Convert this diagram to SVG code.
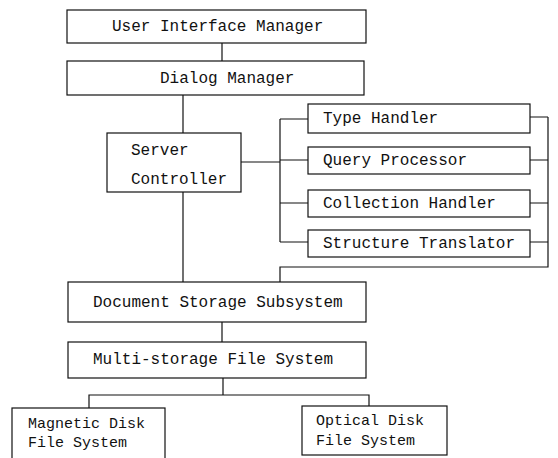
<svg xmlns="http://www.w3.org/2000/svg" width="558" height="458" viewBox="0 0 558 458">
<style>
.box{fill:#fff;stroke:#111;stroke-width:1.2}
.ln{fill:none;stroke:#111;stroke-width:1.2}
text{font-family:"Liberation Mono","DejaVu Sans Mono",monospace;font-size:16px;fill:#111}
.sm{font-size:15px}
</style>
<rect width="558" height="458" fill="#fff"/>
<g id="connectors">
<path class="ln" d="M222,43 V61"/>
<path class="ln" d="M183,95 V133"/>
<path class="ln" d="M241,162 H280"/>
<path class="ln" d="M280,119 V242"/>
<path class="ln" d="M280,119 H308 M280,160 H308 M280,203 H308 M280,242 H308"/>
<path class="ln" d="M530,117 H548 M530,160 H548 M530,203 H548 M530,242 H548"/>
<path class="ln" d="M548,117 V267 H280 V282"/>
<path class="ln" d="M183,192 V282"/>
<path class="ln" d="M222,322 V342"/>
<path class="ln" d="M223,378 V395"/>
<path class="ln" d="M89,408 V395 H369 V406"/>
</g>
<g id="ui-manager"><rect class="box" x="67" y="10" width="299" height="33"/><text x="112" y="31">User Interface Manager</text></g>
<g id="dialog-manager"><rect class="box" x="67" y="61" width="297" height="34"/><text x="160" y="83">Dialog Manager</text></g>
<g id="server-controller"><rect class="box" x="107" y="133" width="134" height="59"/><text x="131" y="155">Server</text><text x="131" y="184">Controller</text></g>
<g id="type-handler"><rect class="box" x="308" y="104" width="222" height="29"/><text x="323" y="123">Type Handler</text></g>
<g id="query-processor"><rect class="box" x="308" y="147" width="222" height="27"/><text x="323" y="165">Query Processor</text></g>
<g id="collection-handler"><rect class="box" x="308" y="190" width="222" height="27"/><text x="323" y="208">Collection Handler</text></g>
<g id="structure-translator"><rect class="box" x="308" y="230" width="222" height="27"/><text x="323" y="248">Structure Translator</text></g>
<g id="document-storage"><rect class="box" x="68" y="282" width="298" height="40"/><text x="93" y="307">Document Storage Subsystem</text></g>
<g id="multi-storage"><rect class="box" x="68" y="342" width="298" height="36"/><text x="93" y="364">Multi-storage File System</text></g>
<g id="magnetic-disk"><rect class="box" x="12" y="408" width="153" height="60"/><text class="sm" x="28" y="428">Magnetic Disk</text><text class="sm" x="28" y="447">File System</text></g>
<g id="optical-disk"><rect class="box" x="302" y="406" width="145" height="49"/><text class="sm" x="316" y="425">Optical Disk</text><text class="sm" x="316" y="445">File System</text></g>
</svg>
